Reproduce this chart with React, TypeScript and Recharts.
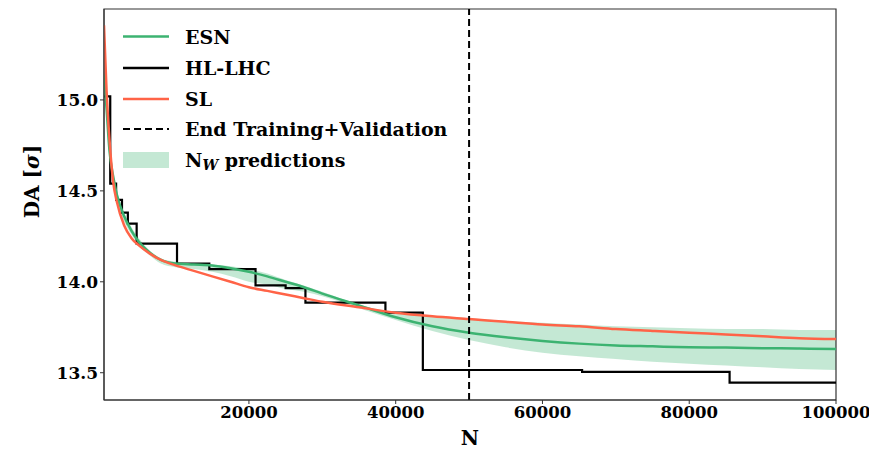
import React from 'react';
import { ComposedChart, Line, Area, XAxis, YAxis, ReferenceLine, ReferenceArea, Legend } from 'recharts';

// N grid for the smooth curves
const gridN = [250, 600, 1000, 1500, 2000, 3000, 4000, 5000, 6500, 8000, 10000, 12500, 15000, 17500, 20000, 22500, 25000, 27500, 30000, 35000, 40000, 45000, 50000, 55000, 60000, 65000, 70000, 75000, 80000, 85000, 90000, 95000, 100000];
const esnValues = [15.14, 14.95, 14.72, 14.58, 14.48, 14.36, 14.28, 14.22, 14.16, 14.12, 14.1, 14.095, 14.09, 14.075, 14.055, 14.03, 14.0, 13.97, 13.935, 13.87, 13.805, 13.755, 13.72, 13.695, 13.675, 13.66, 13.65, 13.645, 13.64, 13.638, 13.635, 13.633, 13.63];
const slValues = [15.41, 15.05, 14.78, 14.55, 14.44, 14.31, 14.24, 14.2, 14.155, 14.12, 14.09, 14.06, 14.03, 14.0, 13.97, 13.95, 13.93, 13.91, 13.89, 13.86, 13.83, 13.81, 13.795, 13.78, 13.765, 13.755, 13.74, 13.73, 13.72, 13.71, 13.7, 13.69, 13.685];
const bandLow = [15.1, 14.91, 14.68, 14.55, 14.45, 14.33, 14.26, 14.2, 14.145, 14.1, 14.08, 14.07, 14.055, 14.03, 14.0, 13.985, 13.96, 13.945, 13.92, 13.855, 13.79, 13.73, 13.68, 13.64, 13.61, 13.59, 13.575, 13.56, 13.55, 13.54, 13.53, 13.52, 13.515];
const bandHigh = [15.16, 14.97, 14.75, 14.6, 14.5, 14.38, 14.3, 14.24, 14.17, 14.13, 14.11, 14.1, 14.095, 14.085, 14.07, 14.045, 14.01, 13.98, 13.945, 13.875, 13.83, 13.81, 13.8, 13.785, 13.775, 13.765, 13.755, 13.75, 13.745, 13.74, 13.74, 13.735, 13.735];

// HL-LHC step series
const hlN = [250, 1100, 1900, 2700, 3500, 4700, 10200, 14600, 20900, 25000, 27700, 38600, 43700, 65400, 85500, 100000];
const hlValues = [15.02, 14.54, 14.45, 14.38, 14.32, 14.21, 14.1, 14.07, 13.98, 13.965, 13.885, 13.83, 13.515, 13.505, 13.445, 13.445];

const xTicks = [20000, 40000, 60000, 80000, 100000];
const yTicks = [13.5, 14.0, 14.5, 15.0];
const endTraining = 50000;

const curveData = gridN.map((n, i) => ({
    n,
    esn: esnValues[i],
    sl: slValues[i],
    band: [bandLow[i], bandHigh[i]],
}));
const hlData = hlN.map((n, i) => ({ n, hl: hlValues[i] }));

const FONT = '"DejaVu Serif", serif';
const GREEN = '#3cb371';
const RED = '#ff6347';

function renderLegend() {
    const rows = [28.5, 60, 91, 121, 152];
    const x1 = 115;
    const x2 = 161;
    const tx = 177;
    const textProps = { x: tx, fontFamily: FONT, fontWeight: 'bold' as const, fontSize: 19, fill: '#000', dominantBaseline: 'central' as const };
    return (
        <svg width={520} height={175} style={{ display: 'block' }}>
            <line x1={x1} x2={x2} y1={rows[0]} y2={rows[0]} stroke={GREEN} strokeWidth={2.5} />
            <text {...textProps} y={rows[0]}>ESN</text>
            <line x1={x1} x2={x2} y1={rows[1]} y2={rows[1]} stroke="#000" strokeWidth={2.5} />
            <text {...textProps} y={rows[1]}>HL-LHC</text>
            <line x1={x1} x2={x2} y1={rows[2]} y2={rows[2]} stroke={RED} strokeWidth={2.5} />
            <text {...textProps} y={rows[2]}>SL</text>
            <line x1={x1} x2={x2} y1={rows[3]} y2={rows[3]} stroke="#000" strokeWidth={2} strokeDasharray="7 4" />
            <text {...textProps} y={rows[3]}>End Training+Validation</text>
            <rect x={x1} y={rows[4] - 8} width={x2 - x1} height={16} fill={GREEN} fillOpacity={0.3} />
            <text {...textProps} y={rows[4]}>
                N<tspan fontStyle="italic" fontSize={14} dy={5}>W</tspan>
                <tspan dy={-5}> predictions</tspan>
            </text>
        </svg>
    );
}

export default function App() {
    return (
        <ComposedChart
            width={869}
            height={443}
            data={curveData}
            margin={{ top: 1, right: 41, left: 0, bottom: 0 }}
            style={{ overflow: 'visible' }}
        >
            <XAxis
                dataKey="n"
                type="number"
                domain={[250, 100000]}
                ticks={xTicks}
                allowDataOverflow
                height={51}
                tickSize={4}
                stroke="#333"
                tick={{ fontFamily: FONT, fontWeight: 'bold', fontSize: 16.5, fill: '#000' }}
                label={{
                    content: ({ viewBox }: any) => (
                        <text
                            x={viewBox.x + viewBox.width / 2}
                            y={viewBox.y + 38}
                            textAnchor="middle"
                            dominantBaseline="central"
                            fontFamily={FONT}
                            fontWeight="bold"
                            fontSize={20}
                            fill="#000"
                        >
                            N
                        </text>
                    ),
                }}
            />
            <YAxis
                type="number"
                domain={[13.35, 15.5]}
                ticks={yTicks}
                allowDataOverflow
                width={96}
                tickSize={4}
                stroke="#333"
                tickFormatter={(v: number) => v.toFixed(1)}
                tick={{ fontFamily: FONT, fontWeight: 'bold', fontSize: 17, fill: '#000' }}
                label={{
                    content: ({ viewBox }: any) => {
                        const cx = viewBox.x + 24;
                        const cy = viewBox.y + viewBox.height / 2 - 23;
                        return (
                            <text
                                x={cx}
                                y={cy}
                                transform={`rotate(-90, ${cx}, ${cy})`}
                                textAnchor="middle"
                                dominantBaseline="central"
                                fontFamily={FONT}
                                fontWeight="bold"
                                fontSize={20}
                                fill="#000"
                            >
                                DA [<tspan fontStyle="italic">σ</tspan>]
                            </text>
                        );
                    },
                }}
            />
            <Area
                dataKey="band"
                type="monotone"
                stroke="none"
                fill={GREEN}
                fillOpacity={0.3}
                isAnimationActive={false}
            />
            <Line
                data={hlData}
                dataKey="hl"
                type="stepAfter"
                stroke="#000"
                strokeWidth={2.2}
                dot={false}
                isAnimationActive={false}
            />
            <Line dataKey="esn" type="monotone" stroke={GREEN} strokeWidth={2.5} dot={false} isAnimationActive={false} />
            <Line dataKey="sl" type="monotone" stroke={RED} strokeWidth={2.5} dot={false} isAnimationActive={false} />
            <ReferenceLine x={endTraining} stroke="#000" strokeWidth={2} strokeDasharray="7 4" />
            <ReferenceArea x1={250} x2={100000} y1={13.35} y2={15.5} fill="none" stroke="#333" strokeWidth={1.2} />
            <Legend
                layout="vertical"
                align="center"
                verticalAlign="middle"
                content={renderLegend}
                wrapperStyle={{ top: 0, left: 0, width: 520, height: 175 }}
            />
        </ComposedChart>
    );
}
